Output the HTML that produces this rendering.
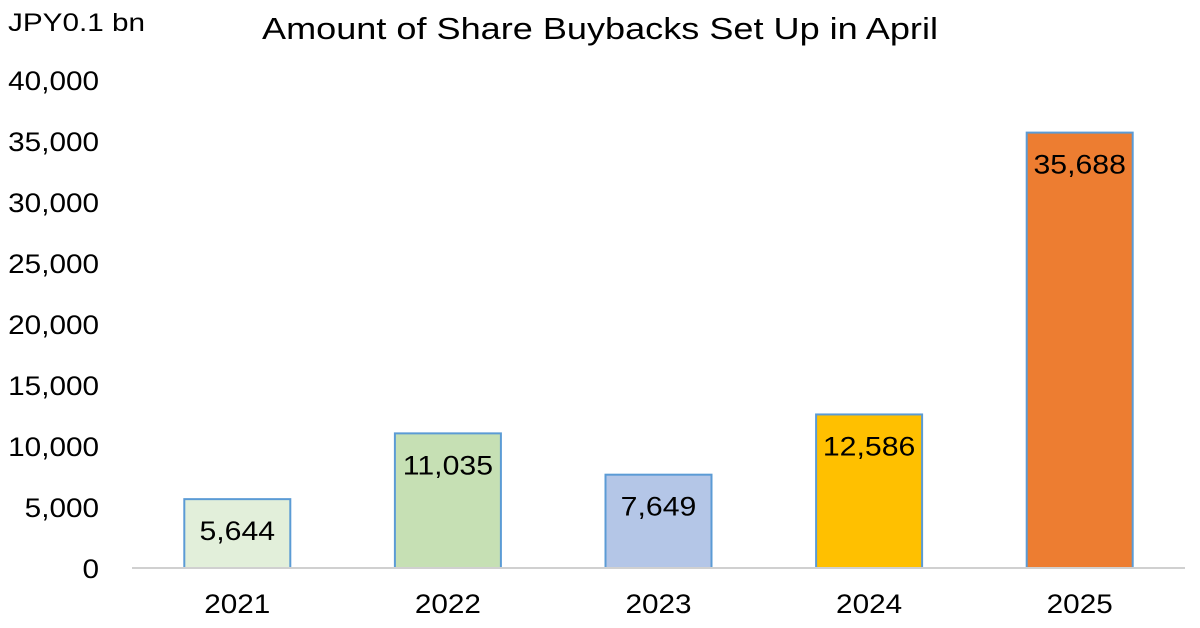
<!DOCTYPE html>
<html><head><meta charset="utf-8"><style>
body{margin:0;background:#fff;width:1200px;height:623px;overflow:hidden}
svg text{font-family:"Liberation Sans",Arial,sans-serif;fill:#000}
</style></head><body>
<svg id="chart" width="1200" height="623">
<text x="8" y="31" font-size="25" textLength="137" lengthAdjust="spacingAndGlyphs">JPY0.1 bn</text>
<text x="600" y="39" font-size="31" text-anchor="middle" textLength="676" lengthAdjust="spacingAndGlyphs">Amount of Share Buybacks Set Up in April</text>
<g id="yticks"></g><g id="bars"></g><g id="xlabels"></g>
<line x1="132" y1="568" x2="1185" y2="568" stroke="#d0d0d0" stroke-width="2"/>
</svg>
<script>
const categories=["2021","2022","2023","2024","2025"];
const values=[5644,11035,7649,12586,35688];
const valueLabels=["5,644","11,035","7,649","12,586","35,688"];
const tickValues=[0,5000,10000,15000,20000,25000,30000,35000,40000];
const tickLabels=["0","5,000","10,000","15,000","20,000","25,000","30,000","35,000","40,000"];
const colors=["#E2EFDA","#C6E0B4","#B4C6E7","#FFC000","#ED7D31"];
const NS="http://www.w3.org/2000/svg";
const y=v=>568-v*(488/40000);
const x0=132,band=210.6,bw=106;
const yt=document.getElementById('yticks');
tickValues.forEach((v,i)=>{
 const t=document.createElementNS(NS,'text');
 
 
 t.setAttribute('x',99);t.setAttribute('y',y(v)+10);t.setAttribute('font-size','27');t.setAttribute('text-anchor','end');
 t.setAttribute('transform','translate(99,0) scale(1.1,1) translate(-99,0)');
 t.textContent=tickLabels[i];yt.appendChild(t);
});
const bg=document.getElementById('bars'),xl=document.getElementById('xlabels');
categories.forEach((c,i)=>{
 const cx=x0+band*(i+0.5);
 const r=document.createElementNS(NS,'rect');
 
 
 r.setAttribute('x',cx-bw/2);r.setAttribute('y',y(values[i]));r.setAttribute('width',bw);r.setAttribute('height',568-y(values[i]));
 r.setAttribute('fill',colors[i]);r.setAttribute('stroke','#5B9BD5');r.setAttribute('stroke-width','2');
 bg.appendChild(r);
 const l=document.createElementNS(NS,'text');
 
 
 l.setAttribute('x',cx);l.setAttribute('y',y(values[i])+41);l.setAttribute('font-size','27');l.setAttribute('text-anchor','middle');
 l.setAttribute('transform','translate('+cx+',0) scale(1.12,1) translate('+(-cx)+',0)');
 l.textContent=valueLabels[i];bg.appendChild(l);
 const t=document.createElementNS(NS,'text');
 
 
 t.setAttribute('x',cx);t.setAttribute('y',613);t.setAttribute('font-size','27');t.setAttribute('text-anchor','middle');
 t.setAttribute('transform','translate('+cx+',0) scale(1.1,1) translate('+(-cx)+',0)');
 t.textContent=c;xl.appendChild(t);
});
</script>
</body></html>
